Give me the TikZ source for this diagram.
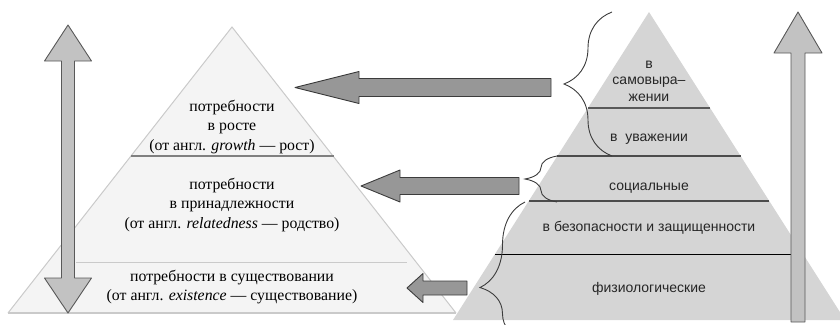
\documentclass[tikz,border=0pt]{standalone}
\usepackage{fontspec}
\setmainfont{Liberation Serif}
\setsansfont{Liberation Sans}
\usepackage{tikz}
\usetikzlibrary{calc}
\usetikzlibrary{decorations.pathreplacing}

\definecolor{fondclair}{HTML}{F4F4F4}
\definecolor{bordclair}{HTML}{CACACA}
\definecolor{fondgris}{HTML}{D5D5D5}
\definecolor{flechefonce}{HTML}{979797}
\definecolor{flecheclair}{HTML}{C2C2C2}
\definecolor{traitfonce}{HTML}{3C3C3C}

\tikzset{
  flechehoriz/.style={fill=flechefonce, draw=traitfonce, line width=0.9pt, line join=round},
  flechevert/.style={fill=flecheclair, draw=traitfonce!85, line width=0.9pt, line join=round},
  accolade/.style={draw=traitfonce, line width=0.9pt, decorate},
  texteserif/.style={align=center, inner sep=0pt, font=\fontsize{15.8}{19.8}\selectfont},
  textesans/.style={align=center, inner sep=0pt, text=black!85, font=\sffamily\fontsize{14}{16.5}\selectfont},
}

\begin{document}
\begin{tikzpicture}[x=1pt,y=-1pt]
                \useasboundingbox (0,0) rectangle (840,324);
                \clip (0,0) rectangle (840,324);

                % pyramide ERG
                \coordinate (S) at (232,27);
                \fill[fondclair] (S) -- ($(S)+(-224,286)$) -- ($(S)+(224,286)$) -- cycle;
                \draw[bordclair, line width=1pt] ($(S)+(-224,286)$) -- (S) -- ($(S)+(224,286)$);
                \draw[bordclair, line width=1.6pt] ($(S)+(-224,286)$) -- ($(S)+(224,286)$);
                \draw[black!50, line width=1.4pt] ($(S)+(-101,129)$) -- ($(S)+(102,129)$);
                \draw[bordclair, line width=0.6pt] ($(S)+(-156,235)$) -- ($(S)+(175,235)$);

                \node[texteserif] (croissance) at ($(S)+(0,100)$) {потребности\\в росте\\(от англ. \textit{growth} — рост)};
                \node[texteserif] (appartenance) at ($(S)+(0,178)$) {потребности\\в принадлежности\\(от англ. \textit{relatedness} — родство)};
                \node[texteserif] (existence) at ($(S)+(0,260)$) {потребности в существовании\\(от англ. \textit{existence} — существование)};

                % flèche double
                \coordinate (A) at (68,25);
                \draw[flechevert] (A) -- ($(A)+(23.5,36)$) -- ($(A)+(6.5,36)$) -- ($(A)+(6.5,253)$) -- ($(A)+(23.5,253)$)
                    -- ($(A)+(0,288)$) -- ($(A)+(-23.5,253)$) -- ($(A)+(-6.5,253)$) -- ($(A)+(-6.5,36)$) -- ($(A)+(-23.5,36)$) -- cycle;

                % pyramide de Maslow
                \coordinate (M) at (649,12);
                \fill[fondgris] (M) -- ($(M)+(-196,308)$) -- ($(M)+(196,308)$) -- cycle;
                \draw[black!65, line width=1.1pt] ($(M)+(-61,96)$) -- ($(M)+(61,96)$);
                \draw[black!70, line width=1.1pt] ($(M)+(-92,144)$) -- ($(M)+(92,144)$);
                \draw[black!70, line width=1.1pt] ($(M)+(-120,189)$) -- ($(M)+(120,189)$);
                \draw[black, line width=0.8pt] ($(M)+(-154,242)$) -- ($(M)+(142,242)$);

                \node[textesans] (expression) at ($(M)+(0,69)$) {в\\самовыра–\\жении};
                \node[textesans] (estime) at ($(M)+(0,127)$) {в\ \ уважении};
                \node[textesans] (social) at ($(M)+(0,176)$) {социальные};
                \node[textesans] (securite) at ($(M)+(0,216)$) {в безопасности и защищенности};
                \node[textesans] (physio) at ($(M)+(0,277)$) {физиологические};

                % accolades
                \draw[accolade, decoration={brace, amplitude=48pt}] (612,156) -- (612,12);
                \draw[accolade, decoration={brace, amplitude=32pt}] (557,202) -- (557,156);
                \draw[accolade, decoration={brace, amplitude=45pt, aspect=0.38}] (525,340) -- (525,202);

                % flèches horizontales
                \coordinate (B) at (295,87.5);
                \draw[flechehoriz] (B) -- ($(B)+(64,-16)$) -- ($(B)+(64,-9)$) -- ($(B)+(256,-9)$) -- ($(B)+(256,9)$)
                    -- ($(B)+(64,9)$) -- ($(B)+(64,16)$) -- cycle;

                \coordinate (B) at (361,186);
                \draw[flechehoriz] (B) -- ($(B)+(39,-16)$) -- ($(B)+(39,-8.5)$) -- ($(B)+(158,-8.5)$) -- ($(B)+(158,8.5)$)
                    -- ($(B)+(39,8.5)$) -- ($(B)+(39,16)$) -- cycle;

                \coordinate (B) at (407,288);
                \draw[flechehoriz] (B) -- ($(B)+(16,-14.5)$) -- ($(B)+(16,-7)$) -- ($(B)+(60,-7)$) -- ($(B)+(60,7)$)
                    -- ($(B)+(16,7)$) -- ($(B)+(16,14.5)$) -- cycle;

                % flèche montante
                \coordinate (C) at (798,12);
                \draw[flechevert] (C) -- ($(C)+(24,41)$) -- ($(C)+(7,41)$) -- ($(C)+(7,310)$) -- ($(C)+(-7,310)$)
                    -- ($(C)+(-7,41)$) -- ($(C)+(-24,41)$) -- cycle;
            \end{tikzpicture}
\end{document}
